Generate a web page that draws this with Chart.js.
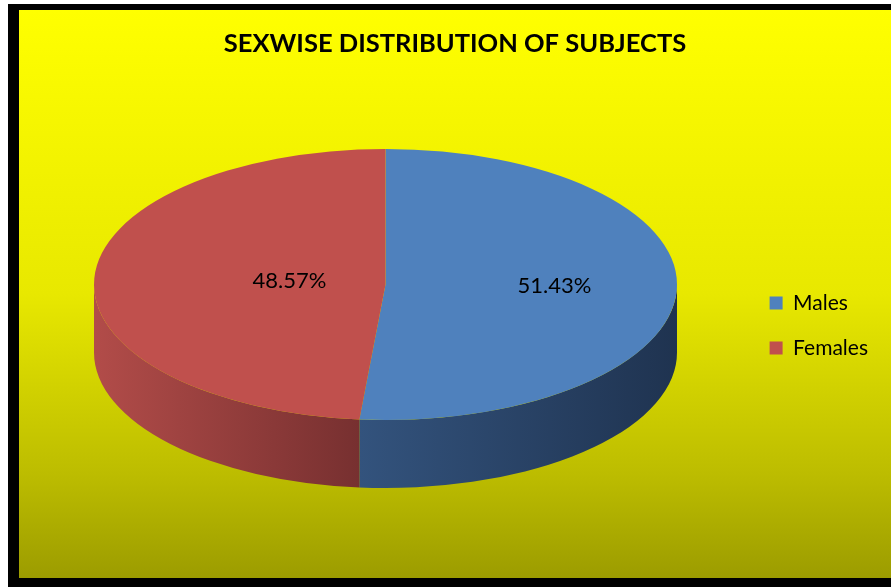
<!DOCTYPE html>
<html>
<head>
<meta charset="utf-8">
<script src="https://cdn.jsdelivr.net/npm/chart.js@4.4.0/dist/chart.umd.min.js"></script>
<style>
body { margin: 0; background: #fff; }
canvas { display: block; }
</style>
</head>
<body>
<canvas id="chart" width="891" height="587"></canvas>
<script>
const categories = ['Males', 'Females'];
const shares = [51.43, 48.57];

const topColors = ['#4F81BD', '#C0504D'];
const sideColors = [['#33537D', '#1F3350'], ['#B24C49', '#773030']];
const labelDist = [0.58, 0.33];

// where the tilted pie sits on the page
const CX = 385.5, CY = 284.5, RX = 291.5, RY = 135.5, DEPTH = 68;

const frame = {
    id: 'frame',
    beforeDraw(chart) {
        const ctx = chart.ctx;
        ctx.save();
        ctx.fillStyle = '#fff';
        ctx.fillRect(0, 0, chart.width, chart.height);
        ctx.fillStyle = '#000';
        ctx.fillRect(8, 4, chart.width - 8, chart.height - 4);
        const g = ctx.createLinearGradient(0, 10, 0, 578);
        g.addColorStop(0, '#FFFF00');
        g.addColorStop(0.5, '#E8E800');
        g.addColorStop(0.82, '#BCBC00');
        g.addColorStop(1, '#9C9C00');
        ctx.fillStyle = g;
        ctx.fillRect(19, 10, chart.width - 19, 568);
        ctx.restore();
    }
};

// nudge the legend to where the original had it
const legendShift = {
    id: 'legendShift',
    afterLayout(chart) {
        const lg = chart.legend;
        lg.left -= 13; lg.right -= 13;
        lg.top += 37; lg.bottom += 37;
    }
};

const pie3d = {
    id: 'pie3d',
    beforeDatasetsDraw(chart) {
        const ctx = chart.ctx;
        const arcs = chart.getDatasetMeta(0).data;
        // side walls (only the front half, angles 0..PI, shows)
        arcs.forEach((arc, i) => {
            const a = Math.max(arc.startAngle, 0);
            const b = Math.min(arc.endAngle, Math.PI);
            if (a >= b) return;
            const xs = [CX + RX * Math.cos(a), CX + RX * Math.cos(b)];
            if (a <= 0) xs.push(CX + RX);
            if (b >= Math.PI) xs.push(CX - RX);
            const g = ctx.createLinearGradient(Math.min(...xs), 0, Math.max(...xs), 0);
            g.addColorStop(0, sideColors[i][0]);
            g.addColorStop(1, sideColors[i][1]);
            ctx.save();
            ctx.fillStyle = g;
            ctx.beginPath();
            ctx.ellipse(CX, CY, RX, RY, 0, a, b);
            ctx.ellipse(CX, CY + DEPTH, RX, RY, 0, b, a, true);
            ctx.closePath();
            ctx.fill();
            ctx.restore();
        });
        // squash the top face into an ellipse
        const a0 = arcs[0];
        const r = a0.outerRadius;
        ctx.save();
        ctx.translate(CX, CY);
        ctx.scale(RX / r, RY / r);
        ctx.translate(-a0.x, -a0.y);
    },
    afterDatasetsDraw(chart) {
        const ctx = chart.ctx;
        ctx.restore();
        const arcs = chart.getDatasetMeta(0).data;
        const total = shares.reduce((a, b) => a + b, 0);
        ctx.save();
        ctx.font = '22px Lato';
        ctx.fillStyle = '#000';
        ctx.textAlign = 'center';
        ctx.textBaseline = 'middle';
        arcs.forEach((arc, i) => {
            const mid = (arc.startAngle + arc.endAngle) / 2;
            const x = CX + RX * labelDist[i] * Math.cos(mid);
            const y = CY + RY * labelDist[i] * Math.sin(mid);
            ctx.fillText((shares[i] / total * 100).toFixed(2) + '%', x, y - 2);
        });
        ctx.restore();
    }
};

new Chart(document.getElementById('chart'), {
    type: 'pie',
    data: {
        labels: categories,
        datasets: [{
            data: shares,
            backgroundColor: topColors,
            borderWidth: 0
        }]
    },
    options: {
        responsive: false,
        animation: false,
        events: [],
        layout: { padding: { left: 19, top: 10, right: 0, bottom: 20 } },
        plugins: {
            title: {
                display: true,
                text: 'SEXWISE DISTRIBUTION OF SUBJECTS',
                color: '#000',
                font: { family: 'Lato', size: 25.5, weight: 'bold' },
                padding: { top: 18, bottom: 10 }
            },
            legend: {
                position: 'right',
                labels: {
                    color: '#000',
                    font: { family: 'Lato', size: 21 },
                    boxWidth: 13,
                    boxHeight: 13,
                    padding: 24
                }
            },
            tooltip: { enabled: false }
        }
    },
    plugins: [frame, legendShift, pie3d]
});
</script>
</body>
</html>
